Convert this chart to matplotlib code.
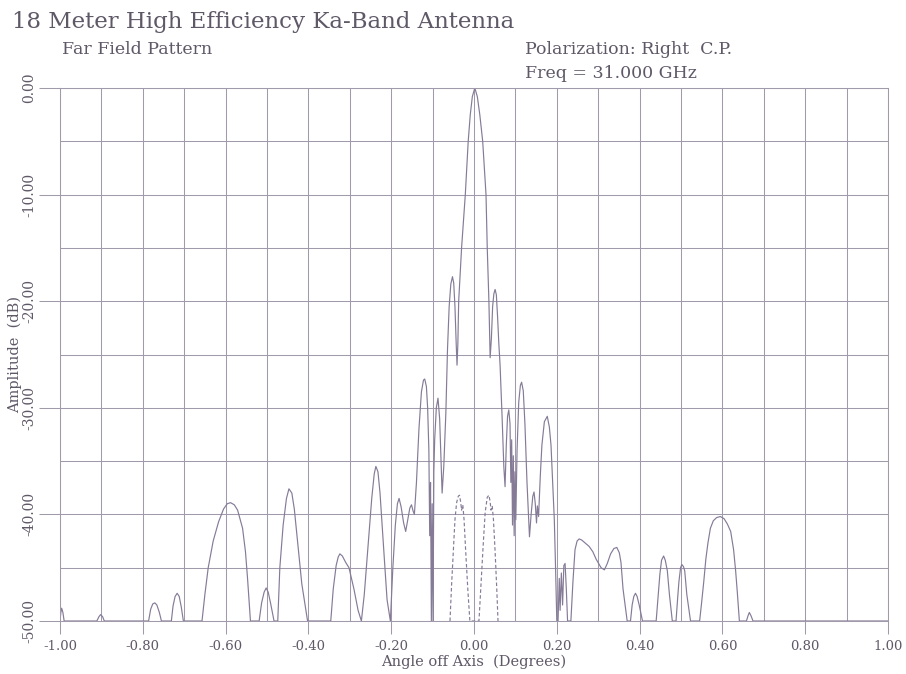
import matplotlib
matplotlib.use("Agg")
import matplotlib.pyplot as plt
from matplotlib.ticker import MultipleLocator

# ----------------- Data -----------------

# co-polar pattern (solid), (angle deg, amplitude dB); -50 dB is the plot floor
copol_pts = [
    (-1.000, -50.0), (-0.998, -49.2), (-0.996, -48.8), (-0.993, -49.2), (-0.990, -50.0),
    (-0.911, -50.0), (-0.906, -49.6), (-0.902, -49.4), (-0.897, -49.6), (-0.893, -50.0),
    (-0.786, -50.0), (-0.781, -48.9), (-0.776, -48.4), (-0.771, -48.3), (-0.766, -48.5),
    (-0.760, -49.2), (-0.755, -50.0),
    (-0.731, -50.0), (-0.727, -48.6), (-0.722, -47.7), (-0.717, -47.4), (-0.712, -47.7),
    (-0.707, -48.7), (-0.702, -50.0),
    (-0.657, -50.0), (-0.650, -47.5), (-0.642, -45.0), (-0.630, -42.5), (-0.617, -40.7),
    (-0.605, -39.5), (-0.596, -39.0), (-0.588, -38.9), (-0.579, -39.1), (-0.571, -39.6),
    (-0.559, -41.3), (-0.552, -43.5), (-0.547, -46.0), (-0.540, -50.0),
    (-0.519, -50.0), (-0.513, -48.3), (-0.507, -47.3), (-0.502, -46.9), (-0.497, -47.3),
    (-0.491, -48.4), (-0.483, -50.0),
    (-0.474, -50.0), (-0.469, -45.0), (-0.461, -41.0), (-0.453, -38.5), (-0.447, -37.6),
    (-0.440, -38.0), (-0.434, -39.5), (-0.428, -41.8), (-0.416, -46.5), (-0.402, -50.0),
    (-0.346, -50.0), (-0.340, -47.0), (-0.333, -44.8), (-0.328, -44.0), (-0.324, -43.7),
    (-0.318, -43.9), (-0.310, -44.5), (-0.302, -45.0), (-0.290, -47.0), (-0.280, -49.0),
    (-0.272, -50.0),
    (-0.265, -47.5), (-0.260, -45.0), (-0.253, -41.5), (-0.247, -38.5), (-0.241, -36.2),
    (-0.237, -35.5), (-0.232, -36.0), (-0.227, -38.0), (-0.222, -41.0), (-0.216, -44.5),
    (-0.210, -48.0), (-0.202, -50.0),
    (-0.196, -45.0), (-0.190, -41.0), (-0.185, -39.0), (-0.181, -38.5), (-0.176, -39.3),
    (-0.170, -40.8), (-0.165, -41.6), (-0.160, -40.5), (-0.155, -39.4), (-0.151, -39.1),
    (-0.147, -39.7), (-0.144, -40.0), (-0.139, -37.0), (-0.133, -32.0), (-0.127, -28.5),
    (-0.122, -27.4), (-0.119, -27.3), (-0.115, -28.0), (-0.112, -30.0), (-0.109, -34.0),
    (-0.107, -42.0), (-0.105, -37.0), (-0.103, -50.0), (-0.101, -39.0), (-0.099, -50.0),
    (-0.097, -36.0), (-0.095, -33.0), (-0.091, -30.0), (-0.087, -29.1), (-0.083, -31.0),
    (-0.080, -34.5), (-0.077, -38.0),
    (-0.073, -35.5), (-0.068, -30.5), (-0.064, -24.5), (-0.060, -20.5), (-0.056, -18.4),
    (-0.052, -17.7), (-0.049, -18.3), (-0.046, -20.5), (-0.043, -24.0), (-0.041, -26.0),
    (-0.039, -24.0), (-0.037, -20.0), (-0.030, -15.0), (-0.021, -10.0), (-0.014, -5.0),
    (-0.009, -2.5), (-0.004, -0.8), (0.002, 0.0), (0.008, -0.8), (0.014, -2.5),
    (0.021, -5.0), (0.029, -10.0), (0.032, -15.0), (0.036, -20.0), (0.039, -25.3),
    (0.042, -23.5), (0.045, -20.5), (0.048, -19.3), (0.051, -18.9), (0.054, -19.4),
    (0.057, -21.5), (0.060, -24.0), (0.063, -26.0), (0.068, -31.0), (0.072, -35.5),
    (0.075, -37.4), (0.078, -33.5), (0.081, -30.8), (0.084, -30.2), (0.087, -31.5),
    (0.089, -37.0), (0.091, -33.0), (0.093, -41.0), (0.095, -34.5), (0.097, -42.0),
    (0.099, -36.0), (0.101, -40.5), (0.104, -34.0), (0.108, -29.5), (0.112, -27.9),
    (0.115, -27.6), (0.119, -28.4), (0.123, -31.5), (0.128, -37.0), (0.134, -42.1),
    (0.138, -40.0), (0.142, -38.3), (0.145, -37.9), (0.148, -39.0), (0.151, -40.8),
    (0.153, -39.2), (0.156, -40.2), (0.160, -36.5), (0.164, -33.5), (0.170, -31.3),
    (0.177, -30.8), (0.182, -31.8), (0.186, -33.5), (0.190, -37.0), (0.194, -40.5),
    (0.197, -45.0), (0.200, -50.0),
    (0.203, -50.0), (0.206, -46.0), (0.208, -49.0), (0.211, -45.5), (0.214, -48.5),
    (0.217, -44.8), (0.220, -44.6), (0.223, -47.0), (0.226, -50.0),
    (0.234, -50.0), (0.239, -46.3), (0.244, -43.3), (0.249, -42.5), (0.254, -42.3),
    (0.260, -42.4), (0.266, -42.6), (0.272, -42.8), (0.278, -43.0), (0.287, -43.5),
    (0.295, -44.2), (0.307, -45.0), (0.315, -45.2), (0.322, -44.6), (0.330, -43.7),
    (0.338, -43.2), (0.345, -43.1), (0.351, -43.6), (0.355, -44.5), (0.360, -47.0),
    (0.370, -50.0),
    (0.378, -50.0), (0.382, -48.5), (0.386, -47.7), (0.390, -47.4), (0.394, -47.7),
    (0.399, -48.5), (0.407, -50.0),
    (0.440, -50.0), (0.445, -47.5), (0.449, -45.6), (0.453, -44.3), (0.458, -43.9),
    (0.462, -44.3), (0.467, -45.3), (0.472, -47.5), (0.479, -50.0),
    (0.488, -50.0), (0.492, -47.8), (0.495, -46.3), (0.499, -45.0), (0.502, -44.7),
    (0.506, -44.9), (0.509, -45.3), (0.514, -47.5), (0.523, -50.0),
    (0.545, -50.0), (0.550, -48.2), (0.555, -46.3), (0.560, -44.2), (0.565, -42.7),
    (0.571, -41.3), (0.578, -40.6), (0.586, -40.3), (0.595, -40.2), (0.604, -40.4),
    (0.612, -40.9), (0.620, -41.6), (0.627, -43.3), (0.632, -45.3), (0.636, -47.3),
    (0.641, -50.0),
    (0.658, -50.0), (0.662, -49.5), (0.665, -49.2), (0.669, -49.5), (0.674, -50.0),
    (1.000, -50.0),
]

# cross-polar pattern (dashed)
xpol_pts = [
    (-0.058, -50.0), (-0.054, -46.5), (-0.050, -43.5), (-0.046, -40.5), (-0.042, -38.9),
    (-0.038, -38.3), (-0.035, -38.2), (-0.032, -38.9), (-0.030, -39.6), (-0.027, -39.1),
    (-0.024, -40.5), (-0.020, -43.5), (-0.015, -47.0), (-0.010, -50.0),
    (0.012, -50.0), (0.017, -46.5), (0.022, -43.0), (0.027, -39.8), (0.032, -38.4),
    (0.036, -38.2), (0.039, -38.8), (0.041, -39.6), (0.044, -39.2), (0.047, -40.5),
    (0.051, -43.5), (0.055, -47.0), (0.058, -50.0),
]

x_ticks = [-1.0, -0.8, -0.6, -0.4, -0.2, 0.0, 0.2, 0.4, 0.6, 0.8, 1.0]
x_tick_labels = ["-1.00", "-0.80", "-0.60", "-0.40", "-0.20", "0.00",
                 "0.20", "0.40", "0.60", "0.80", "1.00"]
y_ticks = [0, -10, -20, -30, -40, -50]
y_tick_labels = ["0.00", "-10.00", "-20.00", "-30.00", "-40.00", "-50.00"]

# ----------------- Styling -----------------

INK = "#5f5867"
PEN = "#857b97"
GRID = "#a09aaa"
W, H = 906, 674

plt.rcParams["font.family"] = ["DejaVu Serif"]

fig = plt.figure(figsize=(W / 100, H / 100), dpi=100)
fig.patch.set_facecolor("white")
ax = fig.add_axes([60 / W, 1 - 621 / H, 828 / W, 533 / H])

cx, cy = zip(*copol_pts)
ax.plot(cx, cy, color=PEN, lw=0.85)
dx, dy = zip(*xpol_pts)
ax.plot(dx, dy, color=PEN, lw=0.85, linestyle=(0, (3, 2)))

ax.set_xlim(-1, 1)
ax.set_ylim(-50, 0)
ax.set_xticks(x_ticks)
ax.set_xticklabels(x_tick_labels)
ax.set_yticks(y_ticks)
ax.set_yticklabels(y_tick_labels, rotation=90, va="center")
ax.xaxis.set_minor_locator(MultipleLocator(0.1))
ax.yaxis.set_minor_locator(MultipleLocator(5))
ax.grid(which="both", color=GRID, lw=0.75)
ax.set_axisbelow(True)

ax.tick_params(axis="x", which="major", length=9, width=0.75, color=GRID,
               pad=5, labelsize=9.5, labelcolor=INK)
ax.tick_params(axis="y", which="major", length=15, width=0.75, color=GRID,
               pad=2, labelsize=10, labelcolor=INK)
ax.tick_params(which="minor", length=0)
for s in ax.spines.values():
    s.set_color(GRID)
    s.set_linewidth(0.75)

ax.set_xlabel("Angle off Axis  (Degrees)", fontsize=10.5, color=INK, labelpad=1)
ax.set_ylabel("Amplitude  (dB)", fontsize=10.5, color=INK, labelpad=0)

fig.text(12 / W, 1 - 22 / H, "18 Meter High Efficiency Ka-Band Antenna",
         fontsize=16.5, color=INK, va="center", ha="left")
fig.text(62 / W, 1 - 50 / H, "Far Field Pattern", fontsize=12.5, color=INK,
         va="center", ha="left")
fig.text(525 / W, 1 - 50 / H, "Polarization: Right  C.P.", fontsize=12.5,
         color=INK, va="center", ha="left")
fig.text(525 / W, 1 - 73 / H, "Freq = 31.000 GHz", fontsize=12.5, color=INK,
         va="center", ha="left")

fig.savefig("out.png", dpi=100, facecolor="white")
